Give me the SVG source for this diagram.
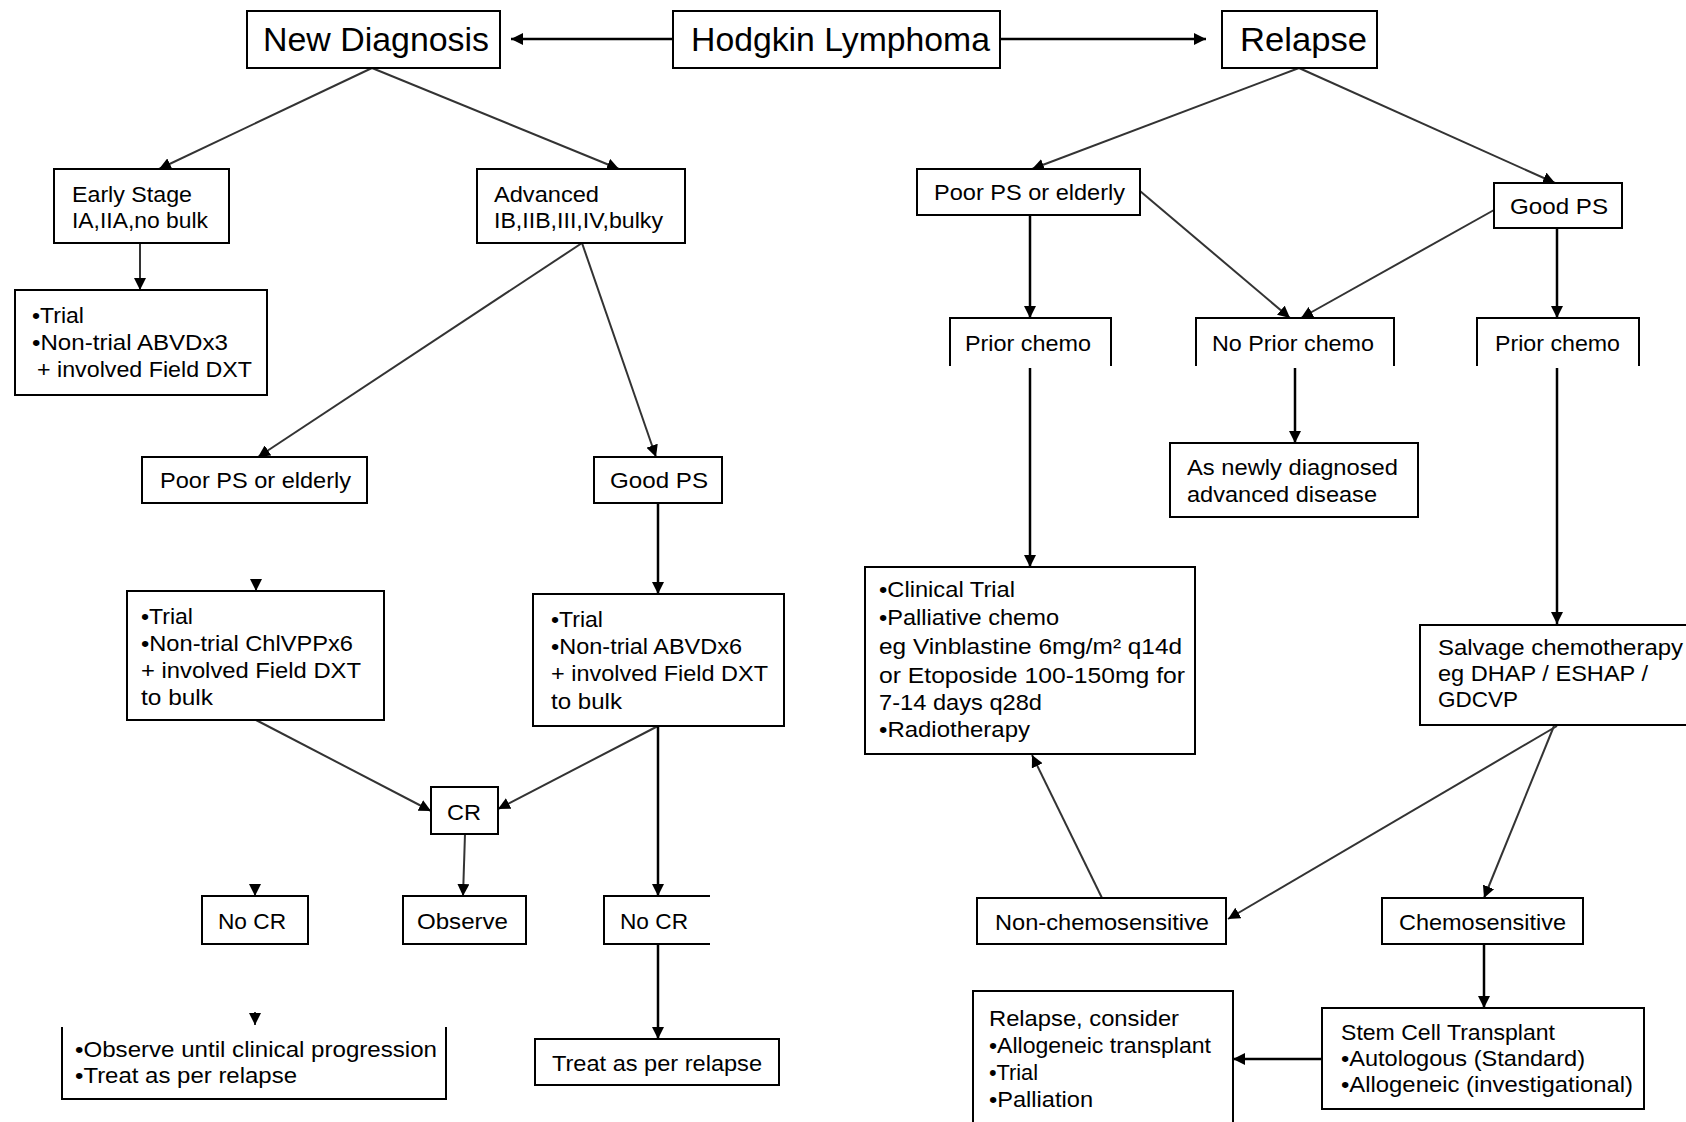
<svg xmlns="http://www.w3.org/2000/svg" width="1686" height="1122" viewBox="0 0 1686 1122">
<defs>
<marker id="ah" viewBox="0 0 12 12" markerWidth="12" markerHeight="12" refX="12" refY="6" orient="auto" markerUnits="userSpaceOnUse">
<path d="M0,0 L12,6 L0,12 Z" fill="#000"/>
</marker>
<style>
.box{fill:#fff;stroke:#000;stroke-width:2}
.open{fill:none;stroke:#000;stroke-width:2}
.t{font-family:"Liberation Sans",Arial,sans-serif;font-size:22px;fill:#000}
.h{font-family:"Liberation Sans",Arial,sans-serif;font-size:34px;fill:#000}
.c{fill:none;stroke:#333;stroke-width:2}
.v{fill:none;stroke:#000;stroke-width:2.5}
</style>
</defs>
<rect width="1686" height="1122" fill="#fff"/>

<g id="connectors">
<line class="v" x1="673" y1="39" x2="511" y2="39" marker-end="url(#ah)"/>
<line class="v" x1="1000" y1="39" x2="1206" y2="39" marker-end="url(#ah)"/>
<line class="c" x1="372" y1="68" x2="159" y2="169" marker-end="url(#ah)"/>
<line class="c" x1="372" y1="68" x2="619" y2="169" marker-end="url(#ah)"/>
<line class="c" x1="140" y1="243" x2="140" y2="290" marker-end="url(#ah)"/>
<line class="c" x1="582" y1="243" x2="258" y2="457" marker-end="url(#ah)"/>
<line class="c" x1="582" y1="243" x2="656" y2="457" marker-end="url(#ah)"/>
<line class="c" x1="256" y1="579" x2="256" y2="591" marker-end="url(#ah)"/>
<line class="v" x1="658" y1="503" x2="658" y2="594" marker-end="url(#ah)"/>
<line class="c" x1="256" y1="720" x2="431" y2="811" marker-end="url(#ah)"/>
<line class="c" x1="658" y1="726" x2="498" y2="809" marker-end="url(#ah)"/>
<line class="v" x1="658" y1="726" x2="658" y2="896" marker-end="url(#ah)"/>
<line class="c" x1="465" y1="834" x2="463" y2="896" marker-end="url(#ah)"/>
<line class="c" x1="255" y1="884" x2="255" y2="896" marker-end="url(#ah)"/>
<line class="c" x1="255" y1="1012" x2="255" y2="1025" marker-end="url(#ah)"/>
<line class="v" x1="658" y1="944" x2="658" y2="1039" marker-end="url(#ah)"/>

<line class="c" x1="1299" y1="68" x2="1032" y2="169" marker-end="url(#ah)"/>
<line class="c" x1="1299" y1="68" x2="1555" y2="183" marker-end="url(#ah)"/>
<line class="v" x1="1030" y1="215" x2="1030" y2="318" marker-end="url(#ah)"/>
<line class="c" x1="1140" y1="191" x2="1290" y2="318" marker-end="url(#ah)"/>
<line class="c" x1="1494" y1="210" x2="1301" y2="318" marker-end="url(#ah)"/>
<line class="v" x1="1557" y1="228" x2="1557" y2="318" marker-end="url(#ah)"/>
<line class="v" x1="1030" y1="368" x2="1030" y2="567" marker-end="url(#ah)"/>
<line class="v" x1="1295" y1="368" x2="1295" y2="443" marker-end="url(#ah)"/>
<line class="v" x1="1557" y1="368" x2="1557" y2="624" marker-end="url(#ah)"/>
<line class="c" x1="1557" y1="726" x2="1228" y2="919" marker-end="url(#ah)"/>
<line class="c" x1="1554" y1="726" x2="1484" y2="898" marker-end="url(#ah)"/>
<line class="c" x1="1102" y1="898" x2="1032" y2="755" marker-end="url(#ah)"/>
<line class="v" x1="1484" y1="944" x2="1484" y2="1008" marker-end="url(#ah)"/>
<line class="v" x1="1322" y1="1059" x2="1233" y2="1059" marker-end="url(#ah)"/>
</g>

<g id="hodgkin"><rect class="box" x="673" y="11" width="327" height="57"/><text class="h" x="691" y="51" textLength="299" lengthAdjust="spacingAndGlyphs">Hodgkin Lymphoma</text></g>
<g id="newdiag"><rect class="box" x="247" y="11" width="253" height="57"/><text class="h" x="263" y="51" textLength="226" lengthAdjust="spacingAndGlyphs">New Diagnosis</text></g>
<g id="relapse"><rect class="box" x="1222" y="11" width="155" height="57"/><text class="h" x="1240" y="51" textLength="127" lengthAdjust="spacingAndGlyphs">Relapse</text></g>

<g id="early"><rect class="box" x="54" y="169" width="175" height="74"/>
<text class="t" x="72" y="202" textLength="120" lengthAdjust="spacingAndGlyphs">Early Stage</text>
<text class="t" x="72" y="228" textLength="136" lengthAdjust="spacingAndGlyphs">IA,IIA,no bulk</text></g>
<g id="advanced"><rect class="box" x="477" y="169" width="208" height="74"/>
<text class="t" x="494" y="202" textLength="105" lengthAdjust="spacingAndGlyphs">Advanced</text>
<text class="t" x="494" y="228" textLength="169" lengthAdjust="spacingAndGlyphs">IB,IIB,III,IV,bulky</text></g>
<g id="early-tx"><rect class="box" x="15" y="290" width="252" height="105"/>
<text class="t" x="32" y="323" textLength="52" lengthAdjust="spacingAndGlyphs">•Trial</text>
<text class="t" x="32" y="350" textLength="196" lengthAdjust="spacingAndGlyphs">•Non-trial ABVDx3</text>
<text class="t" x="37" y="377" textLength="215" lengthAdjust="spacingAndGlyphs">+ involved Field DXT</text></g>

<g id="poor-l"><rect class="box" x="142" y="457" width="225" height="46"/><text class="t" x="160" y="488" textLength="191" lengthAdjust="spacingAndGlyphs">Poor PS or elderly</text></g>
<g id="good-l"><rect class="box" x="594" y="457" width="128" height="46"/><text class="t" x="610" y="488" textLength="98" lengthAdjust="spacingAndGlyphs">Good PS</text></g>

<g id="chlvpp"><rect class="box" x="127" y="591" width="257" height="129"/>
<text class="t" x="141" y="624" textLength="52" lengthAdjust="spacingAndGlyphs">•Trial</text>
<text class="t" x="141" y="651" textLength="212" lengthAdjust="spacingAndGlyphs">•Non-trial ChlVPPx6</text>
<text class="t" x="141" y="678" textLength="220" lengthAdjust="spacingAndGlyphs">+ involved Field DXT</text>
<text class="t" x="141" y="705" textLength="72" lengthAdjust="spacingAndGlyphs">to bulk</text></g>
<g id="abvd6"><rect class="box" x="533" y="594" width="251" height="132"/>
<text class="t" x="551" y="627" textLength="52" lengthAdjust="spacingAndGlyphs">•Trial</text>
<text class="t" x="551" y="654" textLength="191" lengthAdjust="spacingAndGlyphs">•Non-trial ABVDx6</text>
<text class="t" x="551" y="681" textLength="217" lengthAdjust="spacingAndGlyphs">+ involved Field DXT</text>
<text class="t" x="551" y="709" textLength="71" lengthAdjust="spacingAndGlyphs">to bulk</text></g>

<g id="cr"><rect class="box" x="431" y="787" width="67" height="47"/><text class="t" x="447" y="820" textLength="34" lengthAdjust="spacingAndGlyphs">CR</text></g>
<g id="nocr-l"><rect class="box" x="202" y="896" width="106" height="48"/><text class="t" x="218" y="929" textLength="68" lengthAdjust="spacingAndGlyphs">No CR</text></g>
<g id="observe"><rect class="box" x="403" y="896" width="123" height="48"/><text class="t" x="417" y="929" textLength="91" lengthAdjust="spacingAndGlyphs">Observe</text></g>
<g id="nocr-r"><path class="open" d="M710,896 H604 V944 H710"/><text class="t" x="620" y="929" textLength="68" lengthAdjust="spacingAndGlyphs">No CR</text></g>
<g id="observe-until"><path class="open" d="M62,1027 V1099 H446 V1027"/>
<text class="t" x="75" y="1057" textLength="362" lengthAdjust="spacingAndGlyphs">•Observe until clinical progression</text>
<text class="t" x="75" y="1083" textLength="222" lengthAdjust="spacingAndGlyphs">•Treat as per relapse</text></g>
<g id="treat"><rect class="box" x="535" y="1039" width="244" height="46"/><text class="t" x="552" y="1071" textLength="210" lengthAdjust="spacingAndGlyphs">Treat as per relapse</text></g>

<g id="poor-r"><rect class="box" x="917" y="169" width="223" height="46"/><text class="t" x="934" y="200" textLength="191" lengthAdjust="spacingAndGlyphs">Poor PS or elderly</text></g>
<g id="good-r"><rect class="box" x="1494" y="183" width="128" height="45"/><text class="t" x="1510" y="214" textLength="98" lengthAdjust="spacingAndGlyphs">Good PS</text></g>
<g id="prior-l"><path class="open" d="M950,366 V318 H1111 V366"/><text class="t" x="965" y="351" textLength="126" lengthAdjust="spacingAndGlyphs">Prior chemo</text></g>
<g id="noprior"><path class="open" d="M1196,366 V318 H1394 V366"/><text class="t" x="1212" y="351" textLength="162" lengthAdjust="spacingAndGlyphs">No Prior chemo</text></g>
<g id="prior-r"><path class="open" d="M1477,366 V318 H1639 V366"/><text class="t" x="1495" y="351" textLength="125" lengthAdjust="spacingAndGlyphs">Prior chemo</text></g>
<g id="asnew"><rect class="box" x="1170" y="443" width="248" height="74"/>
<text class="t" x="1187" y="475" textLength="211" lengthAdjust="spacingAndGlyphs">As newly diagnosed</text>
<text class="t" x="1187" y="502" textLength="190" lengthAdjust="spacingAndGlyphs">advanced disease</text></g>
<g id="clinical"><rect class="box" x="865" y="567" width="330" height="187"/>
<text class="t" x="879" y="597" textLength="136" lengthAdjust="spacingAndGlyphs">•Clinical Trial</text>
<text class="t" x="879" y="625" textLength="180" lengthAdjust="spacingAndGlyphs">•Palliative chemo</text>
<text class="t" x="879" y="654" textLength="303" lengthAdjust="spacingAndGlyphs">eg Vinblastine 6mg/m² q14d</text>
<text class="t" x="879" y="683" textLength="306" lengthAdjust="spacingAndGlyphs">or Etoposide 100-150mg for</text>
<text class="t" x="879" y="710" textLength="163" lengthAdjust="spacingAndGlyphs">7-14 days q28d</text>
<text class="t" x="879" y="737" textLength="151" lengthAdjust="spacingAndGlyphs">•Radiotherapy</text></g>
<g id="salvage"><path class="open" d="M1686,625 H1420 V725 H1686"/>
<text class="t" x="1438" y="655" textLength="245" lengthAdjust="spacingAndGlyphs">Salvage chemotherapy</text>
<text class="t" x="1438" y="681" textLength="210" lengthAdjust="spacingAndGlyphs">eg DHAP / ESHAP /</text>
<text class="t" x="1438" y="707" textLength="80" lengthAdjust="spacingAndGlyphs">GDCVP</text></g>
<g id="nonchemo"><rect class="box" x="977" y="898" width="249" height="46"/><text class="t" x="995" y="930" textLength="214" lengthAdjust="spacingAndGlyphs">Non-chemosensitive</text></g>
<g id="chemo"><rect class="box" x="1382" y="898" width="201" height="46"/><text class="t" x="1399" y="930" textLength="167" lengthAdjust="spacingAndGlyphs">Chemosensitive</text></g>
<g id="relapse-consider"><path class="open" d="M973,1122 V991 H1233 V1122"/>
<text class="t" x="989" y="1026" textLength="190" lengthAdjust="spacingAndGlyphs">Relapse, consider</text>
<text class="t" x="989" y="1053" textLength="222" lengthAdjust="spacingAndGlyphs">•Allogeneic transplant</text>
<text class="t" x="989" y="1080" textLength="49" lengthAdjust="spacingAndGlyphs">•Trial</text>
<text class="t" x="989" y="1107" textLength="104" lengthAdjust="spacingAndGlyphs">•Palliation</text></g>
<g id="sct"><rect class="box" x="1322" y="1008" width="322" height="101"/>
<text class="t" x="1341" y="1040" textLength="214" lengthAdjust="spacingAndGlyphs">Stem Cell Transplant</text>
<text class="t" x="1341" y="1066" textLength="244" lengthAdjust="spacingAndGlyphs">•Autologous (Standard)</text>
<text class="t" x="1341" y="1092" textLength="292" lengthAdjust="spacingAndGlyphs">•Allogeneic (investigational)</text></g>
</svg>
